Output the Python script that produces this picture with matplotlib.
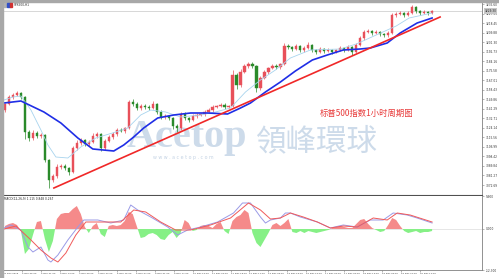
import numpy as np
import matplotlib
matplotlib.use("Agg")
import matplotlib.pyplot as plt
from matplotlib.patches import Rectangle

W, H = 499, 278

# hourly candles (close), open = previous close
first_open = 3140.2
closes = [
    3145.6, 3151.9, 3153.7, 3155.5, 3151.9, 3120.4, 3115.0, 3119.5, 3116.8, 3117.7,
    3095.2, 3077.2, 3080.8, 3088.9, 3089.8, 3088.0, 3084.4, 3106.0, 3110.5, 3113.2,
    3109.6, 3111.4, 3116.8, 3118.6, 3106.0, 3112.3, 3115.9, 3118.6, 3122.2, 3121.3,
    3124.0, 3147.4, 3145.6, 3142.0, 3143.8, 3142.9, 3142.0, 3145.6, 3138.4, 3133.9,
    3134.8, 3133.0, 3125.8, 3124.0, 3136.6, 3133.0, 3131.2, 3134.8, 3135.7, 3136.6,
    3138.4, 3140.2, 3142.9, 3143.8, 3144.7, 3142.9, 3143.8, 3171.7, 3162.7, 3174.4,
    3179.8, 3181.6, 3179.8, 3160.0, 3169.0, 3174.4, 3178.0, 3179.8, 3178.9, 3181.6,
    3197.8, 3196.9, 3195.1, 3197.8, 3194.2, 3196.0, 3198.7, 3194.2, 3192.4, 3195.1,
    3193.3, 3194.2, 3192.4, 3194.2, 3196.0, 3194.2, 3196.9, 3192.4, 3198.7, 3205.0,
    3210.4, 3211.3, 3209.5, 3210.4, 3208.6, 3207.7, 3209.5, 3225.7, 3226.6, 3227.5,
    3225.7, 3227.5, 3232.9, 3229.3, 3227.5, 3228.4, 3227.5, 3229.3,
]
wick_up = [
    1.0, 1.5, 2.0, 2.2, 1.2, 1.0, 2.0, 2.5, 1.5, 1.8,
    1.0, 1.0, 2.0, 2.5, 1.5, 1.8, 1.0, 1.5, 3.0, 1.8,
    1.2, 1.5, 2.5, 2.0, 1.0, 1.5, 2.0, 1.8, 2.0, 1.5,
    1.2, 1.8, 2.5, 1.5, 1.8, 2.0, 1.5, 3.0, 1.0, 1.5,
    1.8, 1.2, 1.0, 1.5, 2.0, 1.5, 1.2, 1.8, 1.5, 1.2,
    1.5, 1.8, 1.5, 1.2, 1.8, 1.5, 1.0, 4.5, 2.0, 2.5,
    1.8, 2.0, 1.5, 1.0, 1.8, 1.5, 1.2, 1.8, 1.5, 1.2,
    2.5, 1.5, 1.2, 2.0, 1.0, 1.5, 2.8, 1.0, 1.2, 1.5,
    1.2, 1.5, 1.0, 1.2, 1.8, 1.2, 1.5, 1.0, 1.5, 2.0,
    1.8, 1.5, 1.2, 1.5, 1.0, 1.2, 1.5, 2.0, 1.5, 1.8,
    1.2, 1.5, 1.8, 1.2, 1.0, 1.5, 1.2, 1.0,
]
wick_dn = [
    1.5, 1.2, 1.5, 1.0, 1.5, 6.0, 2.5, 1.5, 2.0, 1.5,
    2.0, 7.2, 2.0, 1.5, 2.0, 1.5, 2.5, 1.2, 1.5, 1.8,
    2.0, 1.5, 1.2, 1.5, 3.0, 1.5, 1.2, 1.5, 1.8, 1.2,
    1.5, 1.2, 1.8, 2.0, 1.5, 1.8, 1.5, 1.2, 2.0, 1.8,
    1.5, 2.0, 3.0, 3.6, 1.5, 2.0, 1.8, 1.2, 1.5, 1.2,
    1.5, 1.2, 1.5, 1.2, 1.0, 1.5, 1.2, 1.0, 4.0, 1.5,
    1.2, 1.5, 1.8, 3.6, 1.5, 1.2, 1.5, 1.2, 1.8, 1.5,
    1.0, 1.5, 1.8, 1.2, 2.0, 1.5, 1.2, 1.8, 2.0, 1.2,
    1.5, 1.2, 1.5, 1.2, 1.0, 1.5, 1.2, 2.5, 1.2, 1.0,
    1.5, 1.2, 1.8, 1.2, 1.5, 1.8, 1.5, 1.0, 1.5, 1.2,
    1.8, 1.2, 1.0, 1.8, 1.5, 1.2, 1.5, 1.2,
]

# slow moving average (blue)
ma_slow_x = [-0.25, 4, 9.75, 14, 18.25, 22, 27.25, 29.75, 32.25, 34.75, 38.25, 42.25,
             46.5, 50.75, 55.75, 59, 61.5, 65.25, 69, 72.75, 77, 80.75, 84.75, 89,
             91.5, 95.75, 99, 103.25, 107]
ma_slow_y = [3146.5, 3148.3, 3138.4, 3128.5, 3115.0, 3105.1, 3103.3, 3108.7, 3115.9,
             3124.0, 3133.0, 3135.7, 3137.5, 3137.5, 3136.6, 3142.0, 3146.5, 3156.4,
             3165.4, 3175.3, 3185.2, 3189.7, 3194.2, 3195.1, 3196.0, 3200.5, 3209.5,
             3218.5, 3223.0]
# fast moving average (light blue)
ma_fast_x = [-0.25, 2, 4, 6.5, 9, 10.75, 12.75, 15.75, 19, 22.75, 27.75, 30.75, 34,
             36.5, 40.25, 44, 49, 52.75, 56.5, 60.25, 64, 67.75, 71.5, 76.5, 84, 88,
             93, 98, 101.25, 107]
ma_fast_y = [3149.2, 3151.9, 3152.8, 3140.2, 3122.2, 3108.7, 3097.9, 3097.0, 3106.9,
             3115.0, 3120.4, 3124.0, 3135.7, 3140.2, 3138.4, 3133.9, 3135.7, 3138.4,
             3142.0, 3156.4, 3167.2, 3176.2, 3187.0, 3194.2, 3195.1, 3199.6, 3207.7,
             3215.8, 3223.0, 3227.5]
# trend line
trend_x = [12.25, 109]
trend_y = [3070.0, 3223.9]

# MACD histogram, one value per candle
hist = [
    0.9, 1.5, 1.8, 1.2, -0.6, -7.5, -6.0, -1.8, 2.1, 2.4,
    -3.0, -6.9, -3.6, 3.0, 4.5, 4.8, 4.8, 6.0, 6.9, 4.5,
    0.6, -1.2, 0.9, 1.8, -1.5, -2.4, 0.9, 1.2, 0.9, 1.2,
    2.4, 5.1, 4.5, 0.9, -2.7, -2.4, -1.5, -1.2, -1.8, -3.0,
    -3.3, -1.8, -0.9, -2.7, -1.2, 2.7, 1.8, -0.6, -0.3, 0.9,
    1.2, 0.9, 0.3, 1.5, 2.1, -0.6, -1.5, 2.4, 3.6, 4.2,
    5.7, 4.8, -1.2, -4.2, -5.4, -3.3, -1.2, 1.2, 1.8, 0.9,
    1.8, 3.0, -0.9, -1.2, -0.6, -1.2, -0.6, -0.9, -1.2, -0.9,
    -0.6, -0.3, 0.3, 0.6, 0.9, 0.6, 0.3, 0.3, 1.5, 2.7,
    3.0, 1.5, 0.3, -0.3, -0.9, -0.6, 1.2, 3.3, 2.7, 0.9,
    -0.6, -1.2, -0.9, -0.6, -1.2, -0.9, -0.9, -0.6,
]
macd_x = [-0.25, 1.5, 4, 5.75, 7, 9, 10.75, 11.5, 13.25, 15.75, 18.25, 19.75, 23.25,
          26.5, 29.75, 31.5, 33.25, 36.5, 40.75, 43.25, 45.75, 49, 53.25, 57.25, 59.5,
          61.5, 64, 65.25, 66.5, 69, 70.25, 71.5, 74, 78.25, 81.5, 84.75, 88.25, 91.5,
          94.75, 97.25, 100.75, 103.25, 107]
macd_y = [0.3, 1.2, -0.3, -5.4, -6.9, -5.4, -9.3, -9.9, -7.8, -3.3, 0.6, 2.7, 2.7,
          1.8, 2.7, 7.2, 5.7, 3.6, 0.6, -1.8, -0.3, 0.6, 2.1, 4.8, 7.8,
          7.8, 3.6, 1.8, 2.7, 3.3, 4.8, 4.8, 3.6, 2.1, 0.3, 1.2, 0.6, 2.7,
          2.7, 4.8, 4.2, 3.3, 1.8]
sig_x = [-0.25, 2.75, 6.5, 9, 11.5, 13.25, 15.25, 17.75, 20.25, 24, 29, 32.25, 35.25,
         39, 42.75, 46.5, 51.5, 56.5, 61, 64, 66.5, 69, 71.5, 74.75, 78.25, 81.5,
         84.75, 88.25, 92.25, 95.75, 98.25, 101.5, 107]
sig_y = [0.0, 0.9, -3.3, -6.3, -8.7, -9.9, -7.2, -1.8, 2.1, 2.1, 2.1, 5.7, 5.1,
         2.1, -0.3, -0.3, 1.2, 3.3, 7.8, 5.7, 3.0, 3.3, 4.8, 3.6, 2.1, 0.3,
         0.9, 0.6, 3.3, 2.7, 4.8, 4.2, 2.1]

price_ticks = [3235.60, 3227.03, 3218.45, 3209.88, 3201.30, 3192.73, 3184.16, 3175.58,
               3167.01, 3158.43, 3149.86, 3141.29, 3132.71, 3124.14, 3115.56, 3106.99,
               3098.42, 3089.84, 3081.27, 3072.69]
macd_ticks = [9.9, 0.0, -12.3]
date_labels = ["29 Nov 2019", "2 Dec 05:00", "2 Dec 21:00", "3 Dec 14:00", "4 Dec 06:00",
               "4 Dec 22:00", "5 Dec 15:00", "6 Dec 07:00", "9 Dec 01:00", "9 Dec 17:00",
               "10 Dec 10:00", "11 Dec 02:00", "11 Dec 18:00", "12 Dec 11:00",
               "13 Dec 03:00", "13 Dec 19:00", "16 Dec 12:00", "17 Dec 04:00",
               "17 Dec 20:00", "18 Dec 13:00", "19 Dec 05:00", "19 Dec 21:00",
               "20 Dec 14:00"]

bull = '#e8505a'
bear = '#2a8a2a'
frame = '#808080'


def fx(px):
    return px / W


def fy(py):
    return 1 - py / H


fig = plt.figure(figsize=(W / 100, H / 100), dpi=100)
fig.patch.set_facecolor('white')

ax = fig.add_axes([fx(3), fy(195), fx(482) - fx(3), fy(2) - fy(195)])
am = fig.add_axes([fx(3), fy(270), fx(482) - fx(3), fy(196) - fy(270)], sharex=ax)

# --- price panel
n = len(closes)
idx = np.arange(n)
c = np.array(closes)
o = np.array([first_open] + closes[:-1])
top = np.maximum(o, c)
bot = np.minimum(o, c)
highs = top + np.array(wick_up)
lows = bot - np.array(wick_dn)
cols = np.where(c >= o, bull, bear)

ax.vlines(idx, lows, highs, colors=cols, lw=0.5, zorder=3)
ax.bar(idx, np.maximum(top - bot, 0.4), bottom=bot, width=0.55, color=cols,
       edgecolor=cols, linewidth=0.3, zorder=3)

ax.plot(ma_fast_x, ma_fast_y, color='#a8d4ee', lw=0.6, zorder=4)
ax.plot(ma_slow_x, ma_slow_y, color='#1f2ee6', lw=1.2, zorder=5)
ax.plot(trend_x, trend_y, color='#f02828', lw=1.2, zorder=6)
ax.axhline(closes[-1], color='#c8c8c8', lw=0.5, zorder=1)

ax.set_xlim(-0.25, 119.5)
ax.set_ylim(3063.7, 3237.4)

ax.yaxis.tick_right()
ax.set_yticks(price_ticks)
ax.set_yticklabels(['%.2f' % v for v in price_ticks])
ax.tick_params(axis='y', labelsize=2.1, length=1.5, width=0.4, color=frame,
               labelcolor='#333333', pad=1)
ax.tick_params(axis='x', bottom=False, labelbottom=False)
for s in ['left', 'top']:
    ax.spines[s].set_visible(False)
ax.spines['right'].set_color(frame)
ax.spines['right'].set_linewidth(0.6)
ax.spines['bottom'].set_color('#505050')
ax.spines['bottom'].set_linewidth(0.8)

# current price tag
ax.text(1.005, (closes[-1] - 3063.7) / (3237.4 - 3063.7), '%.2f' % closes[-1],
        transform=ax.transAxes, fontsize=2.1, va='center', ha='left', color='#222222',
        bbox=dict(boxstyle='square,pad=0.2', fc='#c8c8c8', ec='none'), clip_on=False)

# watermark
ax.text(fx(127), fy(147), 'Acetop', transform=fig.transFigure, fontsize=29,
        family='Liberation Serif', weight='bold', color='#cddbea', va='baseline',
        ha='left', zorder=0.5)
ax.text(fx(153), fy(157), 'w w w . a c e t o p . c o m', transform=fig.transFigure,
        fontsize=3.4, color='#c4d3e4', va='center', ha='left', zorder=0.6)
ax.text(fx(256), fy(142), '領峰環球', transform=fig.transFigure, fontsize=22,
        family=['Noto Sans CJK TC', 'DejaVu Sans'], color='#cddbea', va='center',
        ha='left', zorder=0.5)
ax.text(fx(320), fy(113.5), '标普500指数1小时周期图', transform=fig.transFigure,
        fontsize=6, family=['Noto Sans CJK SC', 'DejaVu Sans'], color='#e83a3a',
        va='center', ha='left', zorder=7)

# --- MACD panel
hx = np.arange(len(hist))
hv = np.array(hist)
am.fill_between(hx, 0, hv, where=hv >= 0, interpolate=True, color='#f58a8a', lw=0)
am.fill_between(hx, 0, hv, where=hv <= 0, interpolate=True, color='#86f086', lw=0)
am.axhline(0, color='#dcdcdc', lw=0.5, zorder=0)
am.plot(macd_x, macd_y, color='#9a9ae6', lw=0.7)
am.plot(sig_x, sig_y, color='#f05a5a', lw=0.7)
am.set_ylim(-12.3, 9.9)
am.yaxis.tick_right()
am.set_yticks(macd_ticks)
am.set_yticklabels(['%.3f' % v for v in macd_ticks])
am.tick_params(axis='y', labelsize=2.1, length=1.5, width=0.4, color=frame,
               labelcolor='#333333', pad=1)
am.set_xticks(np.arange(len(date_labels)) * 4.75 - 0.5)
am.set_xticklabels(date_labels, ha='left')
am.tick_params(axis='x', labelsize=1.75, length=1.5, width=0.4, color=frame,
               labelcolor='#333333', pad=1)
for s in ['left', 'top']:
    am.spines[s].set_visible(False)
for s in ['right', 'bottom']:
    am.spines[s].set_color(frame)
    am.spines[s].set_linewidth(0.6)
am.text(0.002, 0.985, 'MACD(12,26,9) 1.115 0.848 0.267', transform=am.transAxes,
        fontsize=2.1, va='top', ha='left', color='#222222')

# window chrome: left and top gray bars, title icons
fig.patches.append(Rectangle((0, 0), fx(2.5), 1, transform=fig.transFigure,
                             color='#a8a8a8', zorder=10))
fig.patches.append(Rectangle((0, fy(1.5)), 1, 1 - fy(1.5), transform=fig.transFigure,
                             color='#a8a8a8', zorder=10))
for px, col in [(3.5, '#b0b0b0'), (7, '#3050c8'), (9.5, '#d03030')]:
    fig.patches.append(Rectangle((fx(px), fy(7)), fx(2.5), fy(3) - fy(7),
                                 transform=fig.transFigure, color=col, zorder=10))
fig.text(fx(13.5), fy(5), 'SPX500,H1', fontsize=2.1, va='center', ha='left',
         color='#222222')

fig.savefig('out.png', dpi=100, facecolor='white')
